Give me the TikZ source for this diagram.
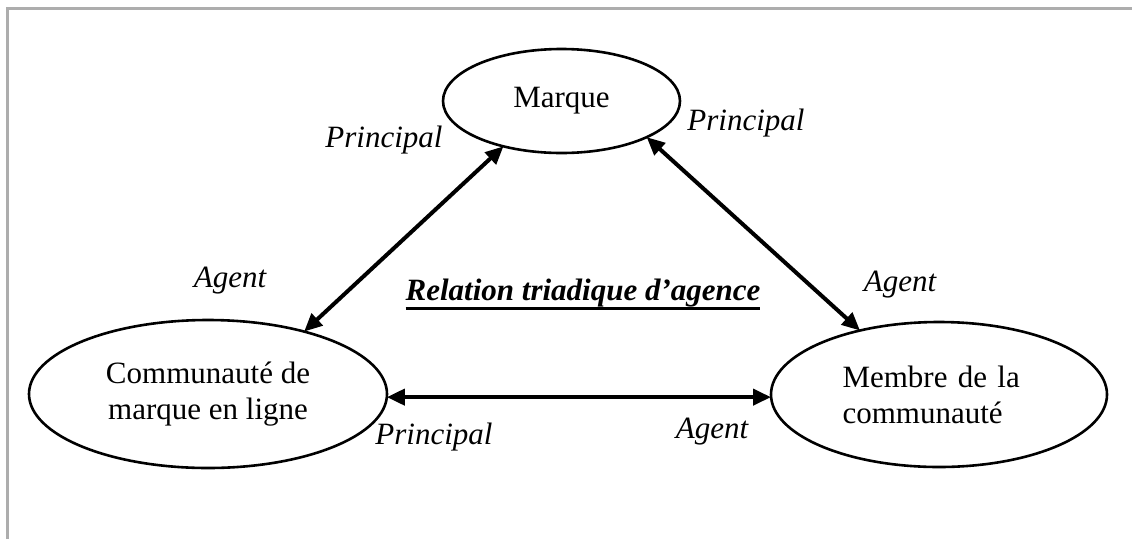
\documentclass[tikz,border=0pt]{standalone}
\usepackage{fontspec}
\setmainfont{Liberation Serif}
\usetikzlibrary{arrows.meta,shapes.geometric}
\newcommand\myul[1]{\setbox0\hbox{#1}\rlap{\rule[-10pt]{\wd0}{3pt}}\box0}
\begin{document}
\begin{tikzpicture}[x=1pt,y=-1pt,
  ell/.style={draw,ellipse,line width=2.6pt,inner sep=0pt,outer sep=0pt,font=\fontsize{31}{36}\selectfont},
  lbl/.style={font=\fontsize{31}{36}\selectfont\itshape,inner sep=0pt},
  link/.style={line width=4pt,{Triangle[length=18pt,width=16pt]}-{Triangle[length=18pt,width=16pt]}},
  frame/.style={draw=black!32,line width=3pt}]
\useasboundingbox (0,0) rectangle (1132,539);
\draw[frame] (7.5,539) -- (7.5,8) -- (1132,8);
\node[ell,minimum width=237pt,minimum height=104pt] (marque) at (561.5,101) {Marque};
\node[ell,minimum width=358pt,minimum height=148pt,align=center] (comm) at (208,394) {Communauté de\\marque en ligne};
\node[ell,minimum width=336pt,minimum height=145pt,align=left,text width=193pt] (membre) at (939,394.5) {\makebox[193pt][s]{Membre de la}\\communauté};
\draw[link] (comm.33) -- (marque.218);
\draw[link] (marque.337) -- (membre.141);
\draw[link] (comm.-1.5) -- (comm.-1.5 -| membre.west);
\node[lbl] (p1) at (384,140) {Principal};
\node[lbl] (p2) at (746,123) {Principal};
\node[lbl] (a1) at (230,281) {Agent};
\node[lbl] (a2) at (900,285) {Agent};
\node[lbl] (p3) at (434,437) {Principal};
\node[lbl] (a3) at (712,432) {Agent};
\node[font=\fontsize{31}{36}\selectfont\bfseries\itshape,inner sep=0pt,anchor=base] (rel) at (583,300) {\myul{Relation triadique d’agence}};
\end{tikzpicture}
\end{document}
